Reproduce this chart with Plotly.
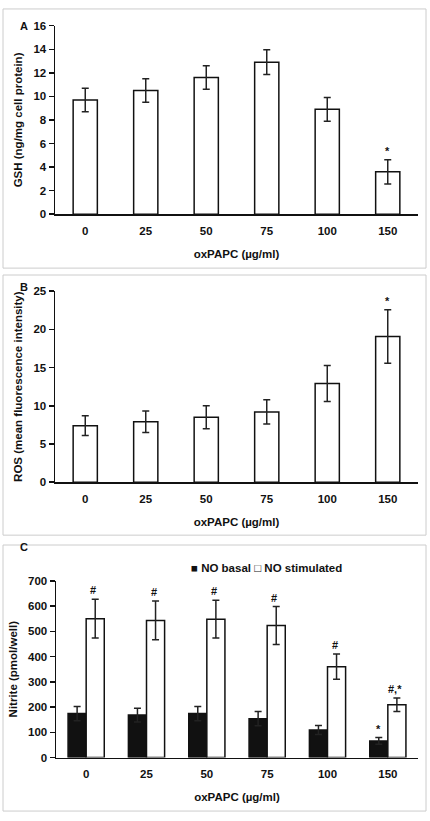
import plotly.graph_objects as go

# ---------------- data ----------------
doses = ["0", "25", "50", "75", "100", "150"]

gsh_mean = [9.7, 10.5, 11.6, 12.9, 8.9, 3.6]
gsh_err = [1.0, 1.0, 1.0, 1.05, 1.0, 1.03]

ros_mean = [7.4, 7.9, 8.5, 9.2, 12.9, 19.05]
ros_err = [1.3, 1.4, 1.5, 1.6, 2.35, 3.5]

no_basal = [174, 168, 174, 154, 109, 66]
no_basal_err = [28, 27, 28, 28, 18, 13]
no_stim = [550, 543, 548, 523, 360, 209]
no_stim_err = [77, 77, 75, 75, 50, 27]

gsh_marks = ["", "", "", "", "", "*"]
ros_marks = ["", "", "", "", "", "*"]
basal_marks = ["", "", "", "", "", "*"]
stim_marks = ["#", "#", "#", "#", "#", "#,*"]

ytitle_a = "GSH (ng/mg cell protein)"
ytitle_b = "ROS (mean fluorescence intensity)"
ytitle_c = "Nitrite (pmol/well)"
xtitle = "oxPAPC (µg/ml)"

# ---------------- layout helpers ----------------
W, H = 430, 821
FONT = "Liberation Sans, Arial, sans-serif"


def px_x(v):
    return v / W


def px_y(v):
    return 1 - v / H


fig = go.Figure()

bar_line = dict(color="#111111", width=1.5)
err_style = dict(type="data", thickness=1.5, width=3.5, color="#222222")

fig.add_trace(go.Bar(x=doses, y=gsh_mean, width=0.4,
                     error_y=dict(array=gsh_err, **err_style),
                     marker=dict(color="white", line=bar_line),
                     showlegend=False, xaxis="x", yaxis="y"))
fig.add_trace(go.Bar(x=doses, y=ros_mean, width=0.4,
                     error_y=dict(array=ros_err, **err_style),
                     marker=dict(color="white", line=bar_line),
                     showlegend=False, xaxis="x2", yaxis="y2"))
fig.add_trace(go.Bar(x=doses, y=no_basal, name="NO basal",
                     error_y=dict(array=no_basal_err, **err_style),
                     marker=dict(color="#111111", line=bar_line),
                     showlegend=False, xaxis="x3", yaxis="y3"))
fig.add_trace(go.Bar(x=doses, y=no_stim, name="NO stimulated",
                     error_y=dict(array=no_stim_err, **err_style),
                     marker=dict(color="white", line=bar_line),
                     showlegend=False, xaxis="x3", yaxis="y3"))

tickfont = dict(family=FONT, size=11.5, color="#111", weight="bold")
titlefont = dict(family=FONT, size=11.5, color="#111", weight="bold")


def xaxis(domain, anchor):
    return dict(domain=domain, anchor=anchor, type="category",
                categoryorder="array", categoryarray=doses,
                range=[-0.5, len(doses) - 0.5], autorange=False,
                showline=True, linecolor="#111", linewidth=1.5,
                ticks="", showgrid=False, zeroline=False,
                tickfont=tickfont, ticklabelstandoff=5,
                title=dict(text=xtitle, font=titlefont, standoff=14))


def yaxis(domain, anchor, rng, dtick, title):
    return dict(domain=domain, anchor=anchor, range=rng, autorange=False, dtick=dtick,
                showline=True, linecolor="#111", linewidth=1.5,
                ticks="outside", ticklen=5, tickwidth=1.5, tickcolor="#111",
                showgrid=False, zeroline=False, tickfont=tickfont,
                title=dict(text=title, font=titlefont, standoff=8))


xd_ab = [px_x(55), px_x(418)]
xd_c = [px_x(56), px_x(418)]

fig.update_layout(
    width=W, height=H,
    margin=dict(l=0, r=0, t=0, b=0),
    paper_bgcolor="white", plot_bgcolor="white",
    barmode="group", bargap=0.4, bargroupgap=0,
    font=dict(family=FONT, color="#111"),
    xaxis=xaxis(xd_ab, "y"),
    yaxis=yaxis([px_y(211.3), px_y(20)], "x", [0, 16], 2, ytitle_a),
    xaxis2=xaxis(xd_ab, "y2"),
    yaxis2=yaxis([px_y(483.3), px_y(289.3)], "x2", [0, 25], 5, ytitle_b),
    xaxis3=xaxis(xd_c, "y3"),
    yaxis3=yaxis([px_y(762.7), px_y(583.3)], "x3", [0, 700], 100, ytitle_c),
)

# panel frames
for (y0, y1) in [(3, 266), (273, 537), (547, 817)]:
    fig.add_shape(type="rect", xref="paper", yref="paper",
                  x0=px_x(3), x1=px_x(426), y0=px_y(y1), y1=px_y(y0),
                  line=dict(color="#cccccc", width=1), fillcolor="rgba(0,0,0,0)")

ann = []
# panel letters
for letter, ypx in [("A", 12), ("B", 285), ("C", 557)]:
    ann.append(dict(text=letter, x=px_x(18), y=px_y(ypx), xref="paper", yref="paper",
                    showarrow=False, font=dict(family=FONT, size=11, color="#111", weight="bold")))

markfont = dict(family=FONT, size=11, color="#111", weight="bold")


def add_marks(marks, vals, errs, xr, yr, xshift=0):
    for i, (m, v, e) in enumerate(zip(marks, vals, errs)):
        if m:
            ann.append(dict(text=m, x=i, y=v + e, xref=xr, yref=yr, showarrow=False,
                            yanchor="bottom", yshift=1, xshift=xshift, font=markfont))


add_marks(gsh_marks, gsh_mean, gsh_err, "x", "y")
add_marks(ros_marks, ros_mean, ros_err, "x2", "y2")
add_marks(basal_marks, no_basal, no_basal_err, "x3", "y3", xshift=-9)
add_marks(stim_marks, no_stim, no_stim_err, "x3", "y3", xshift=7)

# legend for panel C
ann.append(dict(text="■ NO basal □ NO stimulated", x=px_x(266), y=px_y(578),
                xref="paper", yref="paper", showarrow=False,
                font=dict(family=FONT, size=11.5, color="#111", weight="bold")))

fig.update_layout(annotations=ann)

fig.write_html("out.html",
               config={"displayModeBar": False, "staticPlot": True},
               post_script="document.body.style.margin='0px';document.body.style.overflow='hidden';")
